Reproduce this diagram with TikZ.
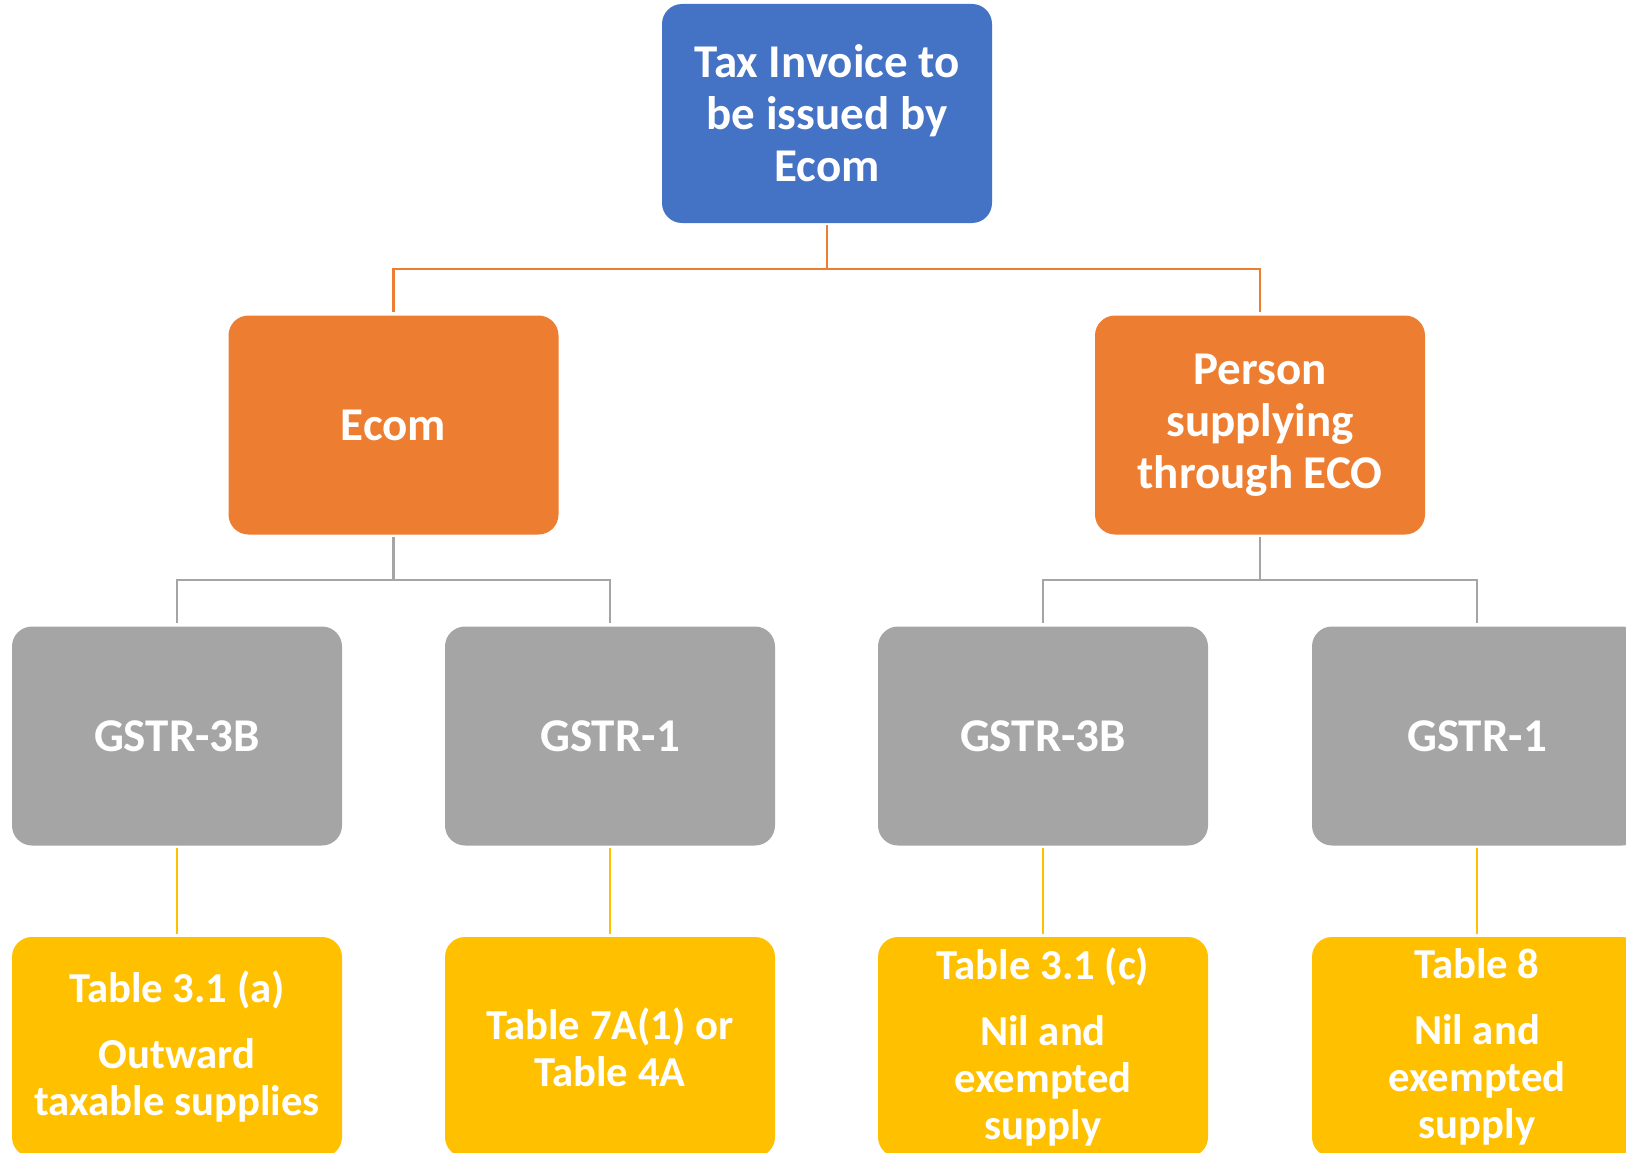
\documentclass[tikz,border=0pt]{standalone}
\usepackage{fontspec}
\setmainfont{Carlito}
\usetikzlibrary{calc}
\definecolor{cblue}{HTML}{4472C4}
\definecolor{corange}{HTML}{ED7D31}
\definecolor{cgray}{HTML}{A5A5A5}
\definecolor{cyellow}{HTML}{FFC000}
\begin{document}
\begin{tikzpicture}[x=1pt,y=-1pt,
  box/.style={rectangle, rounded corners=20pt, minimum width=330pt, minimum height=219pt,
    inner sep=0pt, text=white, align=center, font=\fontsize{47}{52}\selectfont\bfseries},
  bluebox/.style={box, fill=cblue},
  orangebox/.style={box, fill=corange},
  graybox/.style={box, fill=cgray},
  yellowbox/.style={box, fill=cyellow, minimum height=220pt, font=\fontsize{42.7}{47}\selectfont\bfseries},
  oline/.style={draw=corange, line width=2.6pt, shorten >=3pt, shorten <=2pt},
  gline/.style={draw=cgray, line width=2.6pt, shorten >=3pt, shorten <=2pt},
  yline/.style={draw=cyellow, line width=2.6pt, shorten >=3pt, shorten <=2pt}
]
\useasboundingbox (0,0) rectangle (1626,1153);
\fill[white] (0,0) rectangle (1626,1153);
\clip (0,0) rectangle (1626,1153);

\node[bluebox] (top) at (827,113.5) {Tax Invoice to\\be issued by\\Ecom};

\node[orangebox] (ecom) at (393.5,425) {Ecom};
\node[orangebox] (person) at (1260,425) {Person\\supplying\\through ECO};

\node[graybox] (g1) at (177,736) {GSTR-3B};
\node[graybox] (g2) at (610,736) {GSTR-1};
\node[graybox] (g3) at (1043,736) {GSTR-3B};
\node[graybox] (g4) at (1477,736) {GSTR-1};

\node[yellowbox] (y1) at (177,1047) {Table 3.1 (a)\\[19pt]Outward\\taxable supplies};
\node[yellowbox] (y2) at (610,1047) {Table 7A(1) or\\Table 4A};
\node[yellowbox] (y3) at (1043,1047) {Table 3.1 (c)\\[19pt]Nil and\\exempted\\supply};
\node[yellowbox] (y4) at (1477,1047) {Table 8\\[19pt]Nil and\\exempted\\supply};

\coordinate (b1) at (827,269);
\coordinate (b2) at (393.5,580);
\coordinate (b3) at (1260,580);

\draw[oline, shorten >=0pt] (top.south) -- (b1);
\draw[oline, shorten <=0pt] (b1) -| (ecom.north);
\draw[oline, shorten <=0pt] (b1) -| (person.north);

\draw[gline, shorten >=0pt] (ecom.south) -- (b2);
\draw[gline, shorten <=0pt] (b2) -| (g1.north);
\draw[gline, shorten <=0pt] (b2) -| (g2.north);
\draw[gline, shorten >=0pt] (person.south) -- (b3);
\draw[gline, shorten <=0pt] (b3) -| (g3.north);
\draw[gline, shorten <=0pt] (b3) -| (g4.north);

\draw[yline] (g1.south) -- (y1.north);
\draw[yline] (g2.south) -- (y2.north);
\draw[yline] (g3.south) -- (y3.north);
\draw[yline] (g4.south) -- (y4.north);
\end{tikzpicture}
\end{document}
